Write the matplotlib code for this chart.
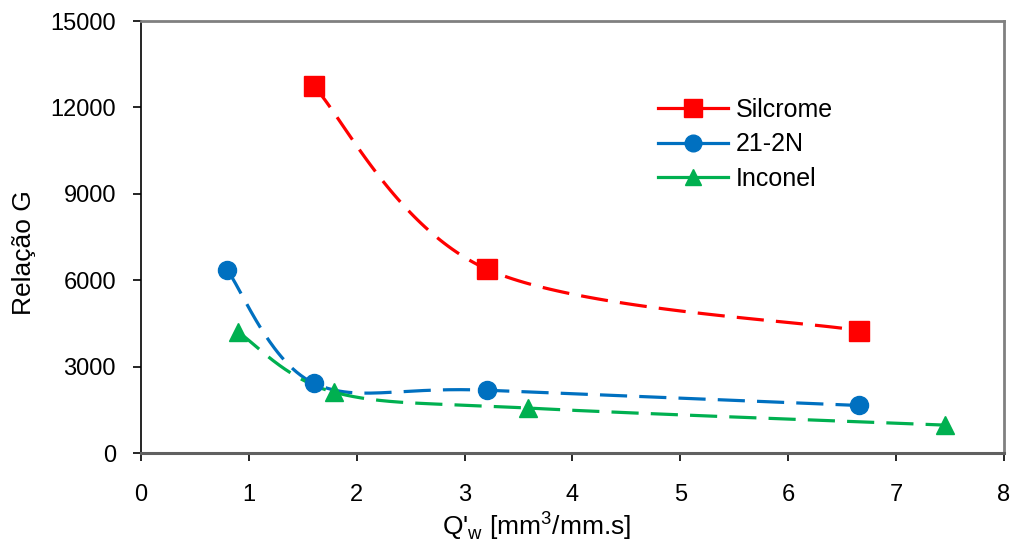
import numpy as np
import matplotlib
matplotlib.use('Agg')
import matplotlib.pyplot as plt
from matplotlib.lines import Line2D

plt.rcParams['font.family'] = ['Liberation Sans', 'DejaVu Sans']
plt.rcParams['mathtext.fontset'] = 'custom'
plt.rcParams['mathtext.rm'] = 'Liberation Sans'

# data
silcrome_x = [1.6, 3.21, 6.66]
silcrome_y = [12750, 6380, 4250]
n21_x = [0.8, 1.6, 3.21, 6.66]
n21_y = [6350, 2430, 2180, 1650]
inconel_x = [0.9, 1.79, 3.59, 7.45]
inconel_y = [4200, 2110, 1560, 970]


def smooth(xs, ys, n=60):
    # Excel-like smoothed line (Catmull-Rom Bezier)
    p = np.column_stack([xs, ys]).astype(float)
    pts = [p[0]] + list(p) + [p[-1]]
    out = []
    for i in range(1, len(pts) - 2):
        p0, p1, p2, p3 = pts[i - 1], pts[i], pts[i + 1], pts[i + 2]
        c1 = p1 + (p2 - p0) / 6
        c2 = p2 - (p3 - p1) / 6
        t = np.linspace(0, 1, n)[:, None]
        seg = (1 - t) ** 3 * p1 + 3 * (1 - t) ** 2 * t * c1 + 3 * (1 - t) * t ** 2 * c2 + t ** 3 * p2
        out.append(seg)
    out = np.vstack(out)
    return out[:, 0], out[:, 1]


fig, ax = plt.subplots(figsize=(10.14, 5.46), dpi=100)
fig.subplots_adjust(left=0.139, right=0.99, top=0.9615, bottom=0.1703)

series = [
    ('Silcrome', silcrome_x, silcrome_y, '#ff0000', 's', 14),
    ('21-2N', n21_x, n21_y, '#0070c0', 'o', 13),
    ('Inconel', inconel_x, inconel_y, '#00b050', '^', 13),
]
handles = []
for name, xs, ys, c, m, ms in series:
    sx, sy = smooth(xs, ys)
    ax.plot(sx, sy, color=c, lw=2.3, dashes=(8.5, 3.8))
    ax.plot(xs, ys, ls='none', marker=m, ms=ms, color=c, zorder=3)
    handles.append(Line2D([0], [0], color=c, lw=2.3, marker=m, ms=ms - 1, label=name))

ax.set_xlim(0, 8)
ax.set_ylim(0, 15000)
ax.set_xticks(range(0, 9))
ax.set_yticks(range(0, 15001, 3000))
ax.tick_params(labelsize=17, direction='out', length=6, width=1.2, color='black')
ax.tick_params(axis='x', pad=16)
ax.tick_params(axis='y', pad=12)
for s in ['top', 'right']:
    ax.spines[s].set_color('#808080')
    ax.spines[s].set_linewidth(2)
ax.spines['left'].set_linewidth(1.2)
ax.spines['bottom'].set_linewidth(2.2)
ax.spines['bottom'].set_color('#606060')

ax.set_ylabel('Relação G', fontsize=19, va='center')
ax.yaxis.set_label_coords(-0.136, 0.465)
ax.set_xlabel("Q'$_{\\mathrm{w}}$ [mm$^{\\mathrm{3}}$/mm.s]", fontsize=19, va='center')
ax.xaxis.set_label_coords(0.458, -0.167)

ax.legend(handles=handles, loc='upper left', bbox_to_anchor=(0.599, 0.822), frameon=False,
          fontsize=18, handlelength=2.8, labelspacing=0.42, handletextpad=0.3,
          borderpad=0, borderaxespad=0)

fig.savefig('out.png', dpi=100)
